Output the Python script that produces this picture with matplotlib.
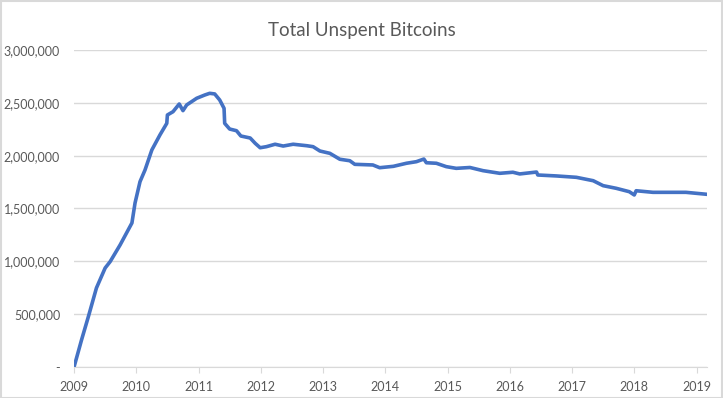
import numpy as np
import matplotlib
matplotlib.use("Agg")
import matplotlib.pyplot as plt
from matplotlib.ticker import FuncFormatter

# data (decimal year, unspent bitcoins)
years = [2009.00, 2009.12, 2009.23, 2009.36, 2009.50, 2009.58, 2009.74, 2009.93,
         2009.98, 2010.06, 2010.14, 2010.25, 2010.38, 2010.49, 2010.50, 2010.59,
         2010.69, 2010.75, 2010.81, 2010.97, 2011.10, 2011.18, 2011.26, 2011.34,
         2011.41, 2011.42, 2011.50, 2011.61, 2011.68, 2011.83, 2011.91, 2011.99,
         2012.09, 2012.23, 2012.36, 2012.52, 2012.74, 2012.84, 2012.95, 2013.11,
         2013.27, 2013.43, 2013.51, 2013.80, 2013.91, 2014.13, 2014.34, 2014.50,
         2014.62, 2014.66, 2014.82, 2014.98, 2015.14, 2015.36, 2015.57, 2015.84,
         2016.05, 2016.16, 2016.43, 2016.45, 2016.75, 2017.07, 2017.34, 2017.50,
         2017.71, 2017.92, 2018.00, 2018.03, 2018.30, 2018.83, 2018.99, 2019.17]
unspent = [0, 255000, 476000, 748000, 937000, 997000, 1155000, 1363000,
           1552000, 1754000, 1864000, 2054000, 2196000, 2306000, 2385000, 2416000,
           2489000, 2426000, 2480000, 2543000, 2574000, 2590000, 2584000, 2527000,
           2448000, 2306000, 2252000, 2236000, 2186000, 2167000, 2117000, 2075000,
           2085000, 2108000, 2091000, 2108000, 2094000, 2085000, 2044000, 2022000,
           1966000, 1952000, 1918000, 1912000, 1886000, 1899000, 1928000, 1943000,
           1968000, 1933000, 1928000, 1896000, 1880000, 1888000, 1858000, 1833000,
           1843000, 1827000, 1845000, 1817000, 1808000, 1795000, 1763000, 1716000,
           1691000, 1659000, 1628000, 1668000, 1653000, 1653000, 1644000, 1634000]
year_ticks = list(range(2009, 2020))
y_ticks = [0, 500000, 1000000, 1500000, 2000000, 2500000, 3000000]

plt.rcParams['font.family'] = ['Lato', 'DejaVu Sans']
txt = '#595959'
grid = '#D9D9D9'

fig = plt.figure(figsize=(7.23, 3.98), dpi=100)
ax = fig.add_axes([0.1024, 0.0779, 0.8756, 0.7965])

ax.plot(years, unspent, color='#4472C4', lw=2.6, solid_joinstyle='round')

ax.set_xlim(2009.0, 2019.17)
ax.set_ylim(0, 3000000)
ax.set_yticks(y_ticks)
ax.set_xticks(year_ticks)
ax.set_xticklabels([str(y) for y in year_ticks])
ax.yaxis.set_major_formatter(FuncFormatter(lambda v, p: '-' if v == 0 else f'{int(v):,}'))

ax.grid(axis='y', color=grid, lw=1)
ax.set_axisbelow(True)
for s in ['top', 'right', 'left']:
    ax.spines[s].set_visible(False)
ax.spines['bottom'].set_color(grid)
ax.tick_params(axis='y', length=0, pad=10, labelsize=9, labelcolor=txt)
ax.tick_params(axis='x', length=4, color=grid, pad=6, labelsize=9, labelcolor=txt)

fig.suptitle('Total Unspent Bitcoins', y=0.945, fontsize=13.5, color=txt)

# chart border
fig.patches.append(plt.Rectangle((0.001, 0.001), 0.997, 0.996, transform=fig.transFigure,
                                 fill=False, edgecolor=grid, lw=1.5))

fig.savefig('out.png', dpi=100)
